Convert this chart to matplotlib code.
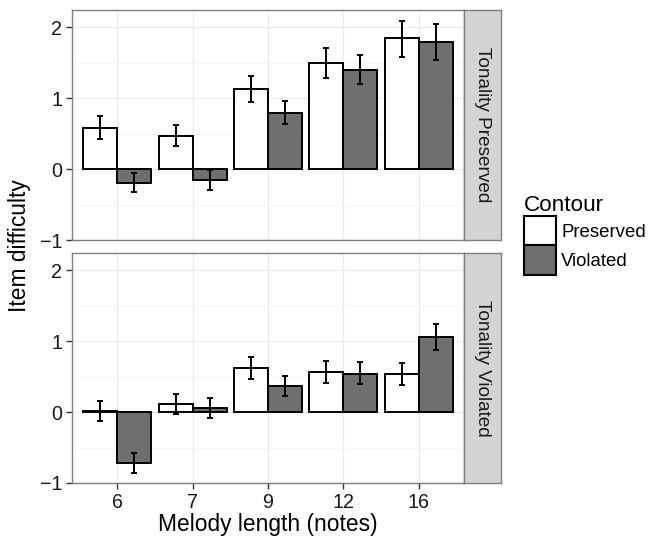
import numpy as np
import matplotlib
matplotlib.use("Agg")
import matplotlib.pyplot as plt
from matplotlib.patches import Patch

plt.rcParams['font.family'] = ['Liberation Sans', 'DejaVu Sans']

lengths = ['6', '7', '9', '12', '16']
contours = ['Preserved', 'Violated']
panels = ['Tonality Preserved', 'Tonality Violated']

# Tonality Preserved panel
tp_pres = [0.58, 0.47, 1.13, 1.50, 1.84]
tp_pres_lo = [0.42, 0.32, 0.94, 1.28, 1.58]
tp_pres_hi = [0.74, 0.62, 1.31, 1.70, 2.09]
tp_viol = [-0.20, -0.16, 0.79, 1.40, 1.79]
tp_viol_lo = [-0.33, -0.30, 0.63, 1.20, 1.54]
tp_viol_hi = [-0.06, -0.02, 0.96, 1.60, 2.04]

# Tonality Violated panel
tv_pres = [0.01, 0.11, 0.62, 0.57, 0.54]
tv_pres_lo = [-0.13, -0.03, 0.46, 0.41, 0.38]
tv_pres_hi = [0.15, 0.25, 0.78, 0.72, 0.69]
tv_viol = [-0.72, 0.06, 0.37, 0.54, 1.06]
tv_viol_lo = [-0.86, -0.08, 0.22, 0.39, 0.88]
tv_viol_hi = [-0.58, 0.20, 0.51, 0.70, 1.24]

data = [
    [(tp_pres, tp_pres_lo, tp_pres_hi), (tp_viol, tp_viol_lo, tp_viol_hi)],
    [(tv_pres, tv_pres_lo, tv_pres_hi), (tv_viol, tv_viol_lo, tv_viol_hi)],
]
fills = ['white', '#6f6f6f']

W, H = 651, 537
fig = plt.figure(figsize=(W / 100, H / 100), dpi=100)

px = lambda x0, y0, x1, y1: [x0 / W, 1 - y1 / H, (x1 - x0) / W, (y1 - y0) / H]
panel_boxes = [(72, 10, 464, 240), (72, 253, 464, 483)]
x = np.arange(len(lengths))
bw = 0.45

for p, (box, series) in enumerate(zip(panel_boxes, data)):
    ax = fig.add_axes(px(*box))
    ax.set_xlim(-0.6, 4.6)
    ax.set_ylim(-1.0, 2.24)
    ax.set_yticks([-1, 0, 1, 2])
    ax.set_yticklabels(['\u22121', '0', '1', '2'])
    ax.set_yticks([-0.5, 0.5, 1.5], minor=True)
    ax.set_xticks(x)
    ax.grid(True, which='major', color='#ebebeb', lw=1.0)
    ax.grid(True, which='minor', axis='y', color='#f5f5f5', lw=0.8)
    ax.set_axisbelow(True)
    for s in ax.spines.values():
        s.set_color('#7f7f7f')
        s.set_linewidth(1.0)
    ax.tick_params(axis='both', which='major', labelsize=14.2, color='#333333',
                   length=4, width=1, labelcolor='#1a1a1a', pad=3)
    ax.tick_params(axis='both', which='minor', length=0)
    for k, (vals, lo, hi) in enumerate(series):
        xs = x + (k - 0.5) * bw
        vals = np.array(vals)
        ax.bar(xs, vals, width=bw, color=fills[k], edgecolor='black',
               linewidth=1.4, zorder=2)
        ax.errorbar(xs, vals, yerr=[vals - np.array(lo), np.array(hi) - vals],
                    fmt='none', ecolor='black', elinewidth=1.4, capsize=2.5,
                    capthick=1.4, zorder=3)
    if p == 0:
        ax.tick_params(axis='x', labelbottom=False, length=0)
    else:
        ax.set_xticklabels(lengths)
        ax.set_xlabel('Melody length (notes)', fontsize=16.4, labelpad=1)

    sax = fig.add_axes(px(464, box[1], 501, box[3]))
    sax.set_facecolor('#d4d4d4')
    sax.set_xticks([])
    sax.set_yticks([])
    for s in sax.spines.values():
        s.set_color('#7f7f7f')
        s.set_linewidth(1.0)
    sax.text(0.5, 0.5, panels[p], rotation=-90, ha='center', va='center',
             fontsize=13.7, color='#1a1a1a', transform=sax.transAxes)

fig.text(20 / W, 1 - 246 / H, 'Item difficulty', rotation=90, ha='center',
         va='center', fontsize=16.4)

handles = [Patch(facecolor=f, edgecolor='black', linewidth=1.5) for f in fills]
fig.legend(handles, contours, title='Contour', loc='upper left',
           bbox_to_anchor=(524 / W, 1 - 195 / H), frameon=False, fontsize=13.4,
           title_fontsize=16.2, handlelength=1.7, handleheight=2.05,
           handletextpad=0.3, labelspacing=0.0, alignment='left',
           borderaxespad=0, borderpad=0)

fig.savefig('out.png', dpi=100)
